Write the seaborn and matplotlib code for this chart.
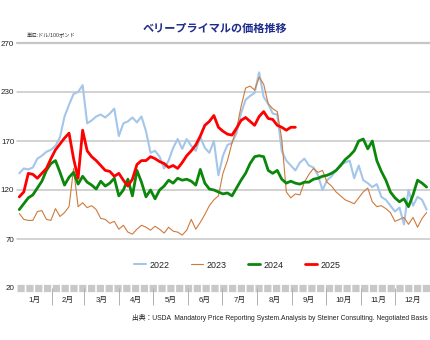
import numpy as np
import pandas as pd
import matplotlib
matplotlib.use("Agg")
import matplotlib.pyplot as plt
import seaborn as sns

# ---- data -------------------------------------------------------------
years = ["2022", "2023", "2024", "2025"]
month_labels = [f"{m}月" for m in range(1, 13)]
month_starts = [0, 31, 59, 90, 120, 151, 181, 212, 243, 273, 304, 334, 365]
y_ticks = [20, 70, 120, 170, 220, 270]
y_tick_labels = ["20", "70", "120", "170", "230", "270"]

# prices ($/100 lb), one observation every 4 days from Jan 3
start_day = 2
step_days = 4

price_2022 = [137, 142, 141, 143, 152, 155, 159, 161, 165, 174,
              195, 207, 218, 220, 227, 188, 191, 195, 197, 194,
              198, 203, 175, 188, 190, 194, 189, 195, 180, 158,
              160, 154, 142, 150, 163, 172, 162, 172, 165, 160,
              174, 163, 158, 170, 135, 155, 166, 168, 178, 198,
              212, 216, 219, 240, 215, 208, 198, 197, 160, 150,
              145, 140, 148, 152, 145, 143, 135, 120, 130, 134,
              140, 146, 148, 150, 132, 145, 130, 127, 123, 126,
              113, 110, 104, 98, 102, 85, 120, 104, 113, 110,
              100]

price_2023 = [96, 90, 89, 89, 98, 99, 90, 89, 101, 93,
              97, 103, 142, 103, 107, 102, 104, 100, 91, 90,
              86, 88, 80, 84, 77, 75, 80, 84, 82, 79,
              83, 80, 76, 82, 78, 77, 74, 79, 90, 80,
              87, 95, 104, 110, 114, 137, 150, 168, 182, 205,
              224, 226, 222, 235, 228, 208, 203, 200, 172, 118,
              112, 116, 115, 128, 136, 142, 138, 140, 128, 124,
              118, 114, 110, 108, 106, 112, 118, 122, 108, 103,
              104, 101, 97, 88, 90, 92, 85, 92, 82, 91,
              97]

price_2024 = [100, 106, 112, 115, 122, 129, 140, 147, 150, 138,
              125, 133, 138, 126, 134, 128, 125, 121, 129, 124,
              127, 132, 114, 120, 131, 114, 140, 128, 113, 120,
              111, 120, 124, 130, 127, 132, 130, 131, 129, 125,
              141, 127, 121, 120, 118, 116, 117, 114, 122, 130,
              137, 147, 154, 155, 154, 140, 137, 140, 131, 127,
              129, 127, 126, 128, 128, 131, 132, 134, 135, 137,
              140, 145, 151, 155, 160, 170, 172, 162, 170, 150,
              139, 130, 118, 112, 108, 111, 103, 115, 130, 127,
              123]

price_2025 = [113, 118, 137, 136, 132, 137, 142, 152, 161, 167,
              173, 178, 152, 132, 181, 160, 154, 150, 145, 140,
              139, 134, 137, 130, 124, 131, 146, 150, 150, 154,
              152, 149, 147, 143, 145, 142, 148, 155, 160, 166,
              175, 186, 190, 196, 184, 180, 177, 176, 183, 191,
              194, 190, 186, 195, 200, 193, 192, 186, 184, 181,
              184, 184]

series = [price_2022, price_2023, price_2024, price_2025]
colors = ["#a3c6e9", "#cf7a3c", "#0b870b", "#ff0000"]
widths = [1.5, 0.8, 2.0, 2.0]

frames = []
for year, vals in zip(years, series):
    days = start_day + step_days * np.arange(len(vals))
    frames.append(pd.DataFrame({"day": days, "price": vals, "year": year}))
df = pd.concat(frames, ignore_index=True)

# ---- figure -----------------------------------------------------------
sns.set_theme(style="white")
plt.rcParams["font.family"] = ["Liberation Sans", "Noto Sans CJK JP"]

W, H = 430, 340
fig = plt.figure(figsize=(W / 100, H / 100), dpi=100)
ax = fig.add_axes([17 / W, 1 - 288 / H, 413 / W, 245 / H])

for year, color, lw in zip(years, colors, widths):
    sns.lineplot(data=df[df["year"] == year], x="day", y="price",
                 color=color, linewidth=lw, ax=ax, label=year,
                 estimator=None, sort=False)

ax.set_xlim(0, 365)
ax.set_ylim(20, 270)
ax.set_xlabel("")
ax.set_ylabel("")
for s in ax.spines.values():
    s.set_visible(False)

# y axis
ax.set_yticks(y_ticks, y_tick_labels)
ax.tick_params(axis="y", length=0, pad=2, labelsize=5.8, labelcolor="#222222")
for yv in y_ticks[1:]:
    ax.axhline(yv, color="#c6c6c6", lw=1.1 if yv < 270 else 1.6,
               zorder=0, clip_on=False)

# bottom band of weekly ticks
ax.axhline(20, color="#c8c8c8", lw=5.2, dashes=(1.0, 0.22),
           clip_on=False, zorder=0, solid_capstyle="butt")

# x axis: month labels centred, separators at month boundaries
mids = [(a + b) / 2 for a, b in zip(month_starts[:-1], month_starts[1:])]
ax.set_xticks(mids, month_labels)
ax.set_xticks(month_starts[1:-1], minor=True)
ax.tick_params(axis="x", which="major", length=0, pad=6.5, labelsize=5.6,
               labelcolor="#222222")
ax.tick_params(axis="x", which="minor", length=12, width=0.7,
               color="#b0b0b0", direction="out", bottom=True)

leg = ax.legend(loc="center", bbox_to_anchor=(237 / W, 1 - 265 / H),
                bbox_transform=fig.transFigure, ncol=4, frameon=False,
                fontsize=6.4, handlelength=1.4, handletextpad=0.35,
                columnspacing=2.4)
for t in leg.get_texts():
    t.set_color("#222222")

fig.text(0.5, 1 - 29 / H, "ベリープライマルの価格推移", ha="center",
         va="center", fontsize=8, fontweight="bold", color="#1f2c8c")
fig.text(27 / W, 1 - 36 / H, "単位:ドル/100ポンド", ha="left", va="center",
         fontsize=3.8, color="#333333")
fig.text(428 / W, 1 - 318 / H,
         "出典：USDA  Mandatory Price Reporting System.Analysis by Steiner Consulting. Negotiated Basis",
         ha="right", va="center", fontsize=4.9, color="#222222")

fig.savefig("out.png", dpi=100)
